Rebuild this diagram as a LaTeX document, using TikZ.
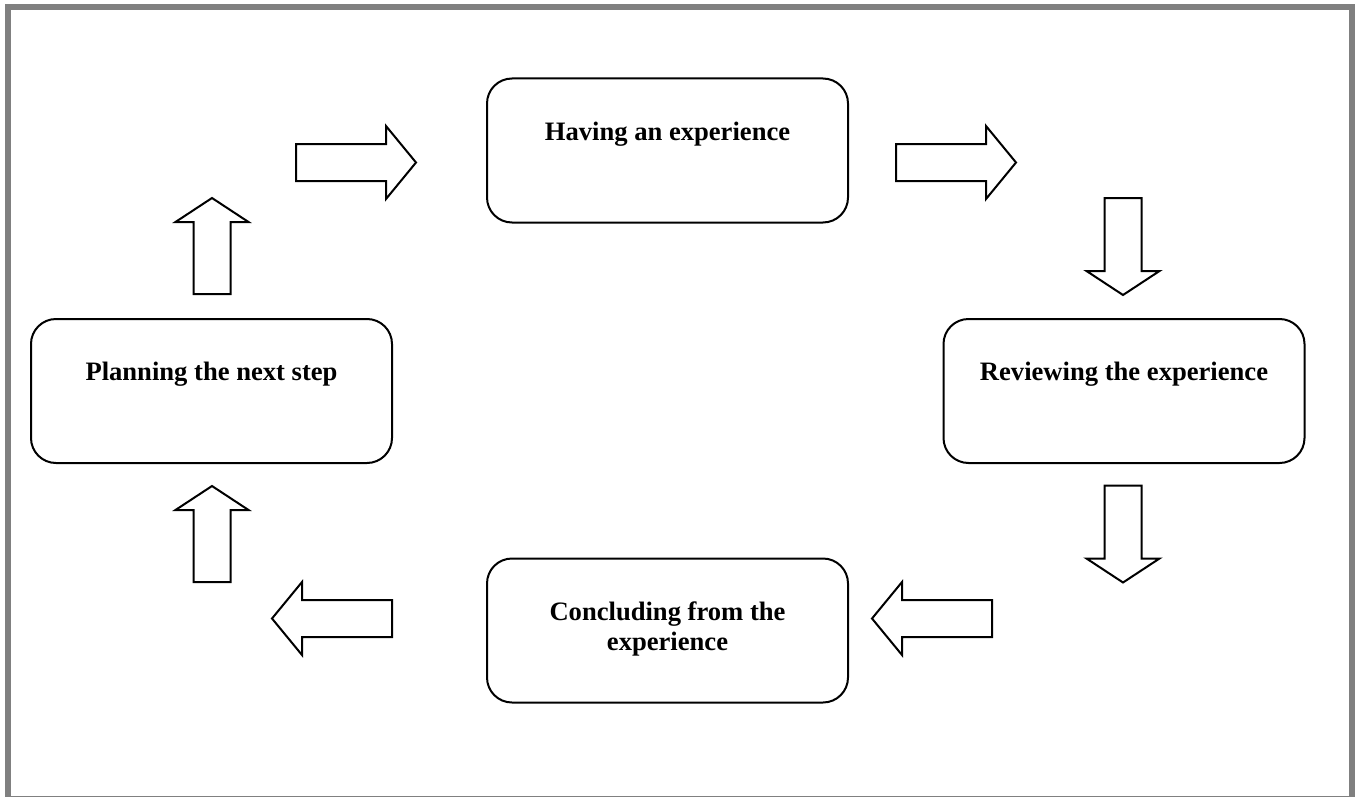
\documentclass[tikz,border=0pt]{standalone}
\usepackage{fontspec}
\setmainfont{Liberation Serif}
\usetikzlibrary{calc}
\tikzset{
  x=0.5pt, y=-0.5pt,
  stagebox/.style={draw, line width=1pt, rounded corners=12.5pt, minimum width=180.5pt, minimum height=72pt, inner sep=0pt},
  stagetext/.style={anchor=base, align=center, inner sep=0pt, font=\fontsize{13.3}{15}\selectfont\bfseries},
  pics/barrow/.style 2 args={code={
    \draw[line width=1pt, line join=miter, fill=white]
      (0,-18.5) -- ({#1-#2},-18.5) -- ({#1-#2},-36.5) -- (#1,0) -- ({#1-#2},36.5) -- ({#1-#2},18.5) -- (0,18.5) -- cycle;
  }},
}
\begin{document}
\begin{tikzpicture}
\useasboundingbox (0,0) rectangle (1358,797);
% frame
\fill[black!50] (5,4) rectangle (1355,797);
\fill[white] (11,10) rectangle (1349,796);

% stages
\node[stagebox] (have) at (667.5,150.5) {};
\node[stagebox] (review) at (1124,391) {};
\node[stagebox] (conclude) at (667.5,630.5) {};
\node[stagebox] (plan) at (211.5,391) {};

\node[stagetext] (havet) at ($(have.north)+(0,63)$) {Having an experience};
\node[stagetext] (reviewt) at ($(review.north)+(0,62)$) {Reviewing the experience};
\node[stagetext] (planet) at ($(plan.north)+(0,62)$) {Planning the next step};
\node[stagetext] (conclt) at ($(conclude.north)+(0,93)$) {Concluding from the\\experience};

% block arrows
\coordinate (a1) at (296,162.5);
\coordinate (a2) at (896,162.5);
\coordinate (a3) at (1123,198);
\coordinate (a4) at (1123,485.5);
\coordinate (a5) at (992,618.5);
\coordinate (a6) at (392,618.5);
\coordinate (a7) at (212,582);
\coordinate (a8) at (212,294);

\pic at (a1) {barrow={120}{30}};
\pic at (a2) {barrow={120}{30}};
\pic[rotate=-90] at (a3) {barrow={97}{24}};
\pic[rotate=-90] at (a4) {barrow={97}{24}};
\pic[rotate=180] at (a5) {barrow={120}{30}};
\pic[rotate=180] at (a6) {barrow={120}{30}};
\pic[rotate=90] at (a7) {barrow={96}{24}};
\pic[rotate=90] at (a8) {barrow={96}{24}};
\end{tikzpicture}
\end{document}
